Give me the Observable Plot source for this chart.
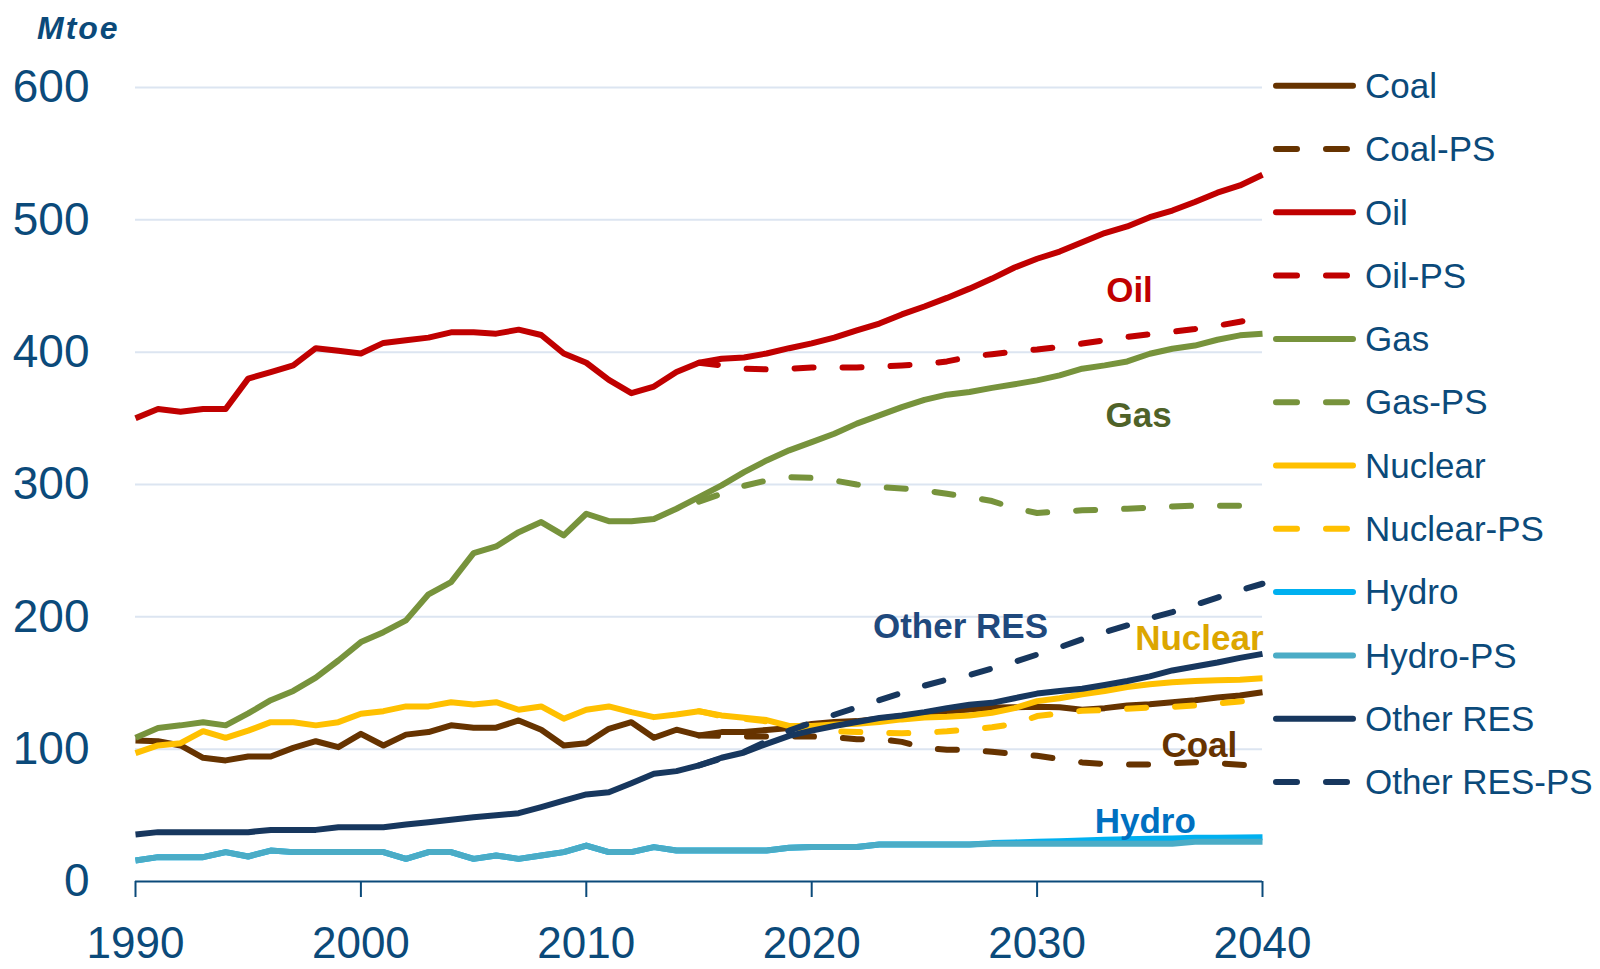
<!DOCTYPE html>
<html><head><meta charset="utf-8">
<script src="https://cdn.jsdelivr.net/npm/d3@7"></script>
<script src="https://cdn.jsdelivr.net/npm/@observablehq/plot@0.6"></script>
<style>
html,body{margin:0;padding:0;background:#fff;}
#wrap{position:relative;width:1600px;height:969px;font-family:"Liberation Sans",Arial,sans-serif;}
#overlay{position:absolute;left:0;top:0;pointer-events:none;}
</style></head><body><div id="wrap"></div>
<script>
// ---- data ----
const years = [1990,1991,1992,1993,1994,1995,1996,1997,1998,1999,2000,2001,2002,2003,2004,2005,2006,2007,2008,2009,2010,2011,2012,2013,2014,2015,2016,2017,2018,2019,2020,2021,2022,2023,2024,2025,2026,2027,2028,2029,2030,2031,2032,2033,2034,2035,2036,2037,2038,2039,2040];
const psYears = [2015,2016,2017,2018,2019,2020,2021,2022,2023,2024,2025,2026,2027,2028,2029,2030,2031,2032,2033,2034,2035,2036,2037,2038,2039,2040];

const coal = [106.6,106,102.8,93.5,91.5,94.5,94.5,101,106,101.5, 111.6,102.8,111,112.9,118,116.2,116.2,121.7,114.7,102.8, 104.5,115.4,120.4,108.6,114.7,110.4,112.9,113,114.5,116, 119,120.5,121.2,123,125,126.5,128.5,130,131.5,131.7, 132,131.7,129.8,131,133,134,135.5,137,139,140.5,143];
const coalPS = [110.4,110,109.6,109.6,109.6,109.6,109,107.5,107.5,105.5, 101,99.5,99.5,98,96.5,95,92.5,90,88.8,88.4, 88.4,89.4,90.2,89.5,88.2,87];
const oil = [350,357,355,357,357,380,385,390,403,401, 399,407,409,411,415,415,414,417,413,399, 392,379,369,374,385,392,395,396,399,403, 406.6,411,416.5,421.6,428.5,434.5,441,448,455.6,464, 470.6,476,483,490,495,502,507,513.5,520.5,526,534];
const oilPS = [392,390,387.5,387,387.5,388.5,388.5,388.5,389,390, 391,393,396.5,398.5,400.5,402,404,406.5,409,411.5, 413.5,415.5,417.5,420,423,426];
const gas = [108.6,116,118,120.4,118,127,137,144,154,167, 180.9,188.4,197.3,217,226.2,248.2,253.2,264,271.6,261.5, 277.9,272.3,272.3,274,281.7,290.5,299.3,309.4,318.2,325.8, 332,338.4,346,352.2,358.5,364,367.9,369.9,373,375.7, 378.7,382.5,387.5,390,393,398.8,402.6,405,409.4,412.7,414];
const gasPS = [287,293,299,303,305.5,305,303,300,298,297, 295.5,293,290.5,287.5,282,278.5,279.5,280.5,281,281.7, 282.5,283.4,284,284,284,284];
const nuclear = [97,102.8,104.5,113.6,108.6,114,120.4,120.4,118,120.4, 126.8,128.7,132.3,132.3,135.5,133.8,135.5,129.8,132.3,123, 129.8,132.3,128,124.2,126.2,128.7,125.5,123.7,122,117.5, 117.5,118.7,119.2,120.5,122.5,124,124.5,125.5,127.5,131, 136.3,138.5,141.5,144,147,149,150.6,151.5,152,152.5,153.5];
const nuclearPS = [128.7,125,123,121,117,115,113.5,113,112.5,112, 112.5,113.5,115,116.5,119,125,127,129,129.5,130.5, 131.5,132,133,134.5,136,137.5];
const hydro = [15.9,18.4,18.4,18.4,22.2,18.9,23.4,22.2,22.2,22.2, 22.2,22.2,17.1,22.2,22.2,17.1,19.7,17.1,19.7,22.2, 27.2,22.2,22.2,26,23.4,23.4,23.4,23.4,23.4,25.5, 26,26,26,28,28,28,28,28,29,29.5, 30,30.5,31,31.5,32,32.3,32.5,33,33,33.3,33.5];
const hydroPS = [15.9,18.4,18.4,18.4,22.2,18.9,23.4,22.2,22.2,22.2, 22.2,22.2,17.1,22.2,22.2,17.1,19.7,17.1,19.7,22.2, 27.2,22.2,22.2,26,23.4,23.4,23.4,23.4,23.4,25.5, 26,26,26,28,28,28,28,28,28.5,28.5, 28.5,28.5,28.5,28.5,28.5,28.5,28.5,30,30,30,30];
const otherRES = [35.5,37.3,37.3,37.3,37.3,37.3,39,39,39,41, 41,41,43,44.8,46.7,48.6,50,51.6,56.2,61.2, 65.8,67.5,74.3,81.4,83.4,87.7,93.5,97.5,104,110, 114,117.5,120.5,123.5,125.5,128,131,133.5,135,138.5, 142,144,145.7,148.5,151.5,155,159.5,162.5,165.5,169,172];
const otherRESPS = [87.7,93,98,106,114,120,126,131.5,137,142.5, 148,152.5,156,161,166,171.5,177,183,188.5,193.5, 199,203.5,209,214.5,220,225];

const seriesNames = ["Coal","Coal-PS","Oil","Oil-PS","Gas","Gas-PS","Nuclear","Nuclear-PS","Hydro","Hydro-PS","Other RES","Other RES-PS"];
const seriesValues = [coal, coalPS, oil, oilPS, gas, gasPS, nuclear, nuclearPS, hydro, hydroPS, otherRES, otherRESPS];
const seriesYears = [years, psYears, years, psYears, years, psYears, years, psYears, years, years, years, psYears];
const seriesColors = ["#663300","#663300","#C00000","#C00000","#77933C","#77933C","#FFC000","#FFC000","#00B0F0","#4BACC6","#17375E","#17375E"];
const seriesDashed = [false,true,false,true,false,true,false,true,false,false,false,true];

const xTicks = [1990,2000,2010,2020,2030,2040];
const yTicks = [0,100,200,300,400,500,600];

const labelTexts = ["Oil","Gas","Other RES","Nuclear","Coal","Hydro"];
const labelYears = [2034.1,2034.5,2026.6,2037.2,2037.2,2034.8];
const labelValues = [446.7,352.2,192.7,183.7,102.8,45.4];
const labelColors = ["#C00000","#4F6228","#1F497D","#DCA600","#663300","#0070C0"];

const unitLabel = "Mtoe";

// ---- build ----
const TEXT = "#0b4a7a";
const GRID = "#dce5f1";
const FONT = "'Liberation Sans', Arial, sans-serif";
const DASH = "19,29";

const rows = [];
seriesNames.forEach((name, i) => {
  seriesValues[i].forEach((v, j) => rows.push({series: name, idx: i, year: seriesYears[i][j], value: v}));
});
const labels = labelTexts.map((t, i) => ({text: t, year: labelYears[i], value: labelValues[i], color: labelColors[i]}));

const lineMarks = seriesNames.map((name, i) =>
  Plot.line(rows.filter(r => r.idx === i), {
    x: "year", y: "value",
    stroke: seriesColors[i], strokeWidth: 6,
    strokeDasharray: seriesDashed[i] ? DASH : null,
    strokeLinecap: seriesDashed[i] ? "round" : "butt",
    strokeLinejoin: "round"
  })
);

const chart = Plot.plot({
  width: 1600, height: 969,
  marginLeft: 135, marginRight: 338, marginTop: 87, marginBottom: 88,
  style: {background: "white", color: TEXT, fontFamily: FONT, overflow: "visible"},
  x: {domain: [1990, 2040]},
  y: {domain: [0, 600]},
  marks: [
    Plot.ruleY(yTicks.filter(d => d > 0), {stroke: GRID, strokeWidth: 2}),
    ...lineMarks,
    Plot.ruleY([0], {stroke: TEXT, strokeWidth: 2}),
    Plot.axisX(xTicks, {tickSize: 16, tickPadding: 29, fontSize: 44, strokeWidth: 2, tickFormat: d => String(d), label: null}),
    Plot.axisY(yTicks, {tickSize: 0, tickPadding: 46, fontSize: 46, label: null}),
    Plot.text(labels, {x: "year", y: "value", text: "text", fill: "color", fontSize: 35, fontWeight: "bold"})
  ]
});
document.getElementById("wrap").appendChild(chart);

// overlay: unit label + legend
const svg = d3.select("#wrap").append("svg").attr("id", "overlay")
  .attr("width", 1600).attr("height", 969).style("font-family", FONT);
svg.append("text").attr("x", 37).attr("y", 39)
  .attr("font-size", 32).attr("font-weight", "bold").attr("font-style", "italic")
  .attr("letter-spacing", 2).attr("fill", TEXT).text(unitLabel);

const lg = svg.append("g");
seriesNames.forEach((name, i) => {
  const y = 85.7 + i * 63.3;
  lg.append("line").attr("x1", 1276).attr("x2", 1353).attr("y1", y).attr("y2", y)
    .attr("stroke", seriesColors[i]).attr("stroke-width", 6).attr("stroke-linecap", "round")
    .attr("stroke-dasharray", seriesDashed[i] ? "21,29" : null);
  lg.append("text").attr("x", 1365).attr("y", y).attr("dy", "0.35em")
    .attr("font-size", 35).attr("fill", TEXT).text(name);
});
</script></body></html>
